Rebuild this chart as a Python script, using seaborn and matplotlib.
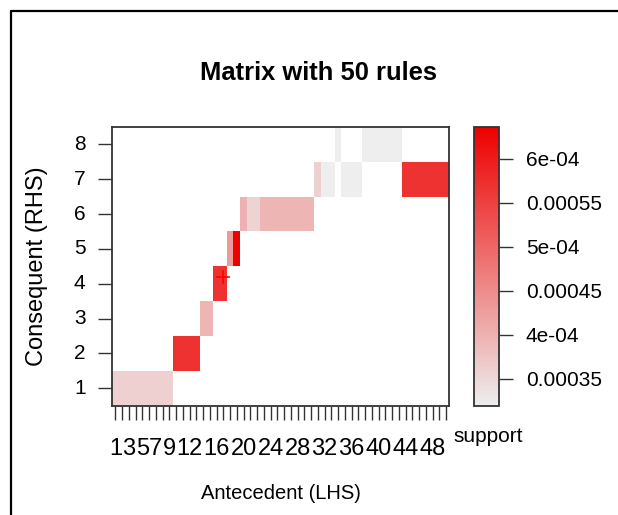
import numpy as np
import pandas as pd
import matplotlib
matplotlib.use("Agg")
import matplotlib.pyplot as plt
from matplotlib.colors import LinearSegmentedColormap
from matplotlib.lines import Line2D
import seaborn as sns

# one rule per antecedent id (LHS 1..50)
lhs = list(range(1, 51))
rhs = [1, 1, 1, 1, 1, 1, 1, 1, 1,
       2, 2, 2, 2,
       3, 3,
       4, 4,
       5, 5,
       6, 6, 6, 6, 6, 6, 6, 6, 6, 6, 6,
       7, 7, 7,
       8,
       7, 7, 7,
       8, 8, 8, 8, 8, 8,
       7, 7, 7, 7, 7, 7, 7]
support = [0.000359] * 9 + [0.000568] * 4 + [0.000395] * 2 + [0.000568] * 2 + \
          [0.000431, 0.000636] + [0.000400, 0.000355, 0.000355] + [0.000395] * 8 + \
          [0.000359] + [0.000320] * 12 + [0.000568] * 7
marker_pos = (16.9, 4.2)   # small "+" drawn on the plot

xtick_labels = [1, 3, 5, 7, 9, 12, 16, 20, 24, 28, 32, 36, 40, 44, 48]
cbar_ticks = [0.00035, 0.0004, 0.00045, 0.0005, 0.00055, 0.0006]
cbar_labels = ["0.00035", "4e-04", "0.00045", "5e-04", "0.00055", "6e-04"]
vmin, vmax = 0.000319, 0.000636

sns.set_theme(style="white")
plt.rcParams["font.family"] = ["Liberation Sans", "DejaVu Sans"]
plt.rcParams["text.color"] = "black"
plt.rcParams["axes.labelcolor"] = "black"
plt.rcParams["xtick.color"] = "black"
plt.rcParams["ytick.color"] = "black"

df = pd.DataFrame({"lhs": lhs, "rhs": rhs, "support": support})
mat = df.pivot(index="rhs", columns="lhs", values="support")
mat = mat.reindex(index=range(8, 0, -1), columns=range(1, 51))

cmap = LinearSegmentedColormap.from_list("grey_red", ["#EEEEEE", "#EE0000"])

fig = plt.figure(figsize=(6.18, 5.15), dpi=100)
ax = fig.add_axes([0.1812, 0.2124, 0.5461, 0.5410])
cax = fig.add_axes([0.7675, 0.2117, 0.0405, 0.5411])

sns.heatmap(mat, ax=ax, cmap=cmap, vmin=vmin, vmax=vmax, cbar_ax=cax,
            cbar_kws={"ticks": cbar_ticks}, linewidths=0)

# "+" marker, converted to heatmap coordinates
ax.plot(marker_pos[0] - 0.5, 8.5 - marker_pos[1], marker="+", color="#FF0000",
        ms=10, mew=1.2)

edge = "#333333"
for s in ax.spines.values():
    s.set_visible(True)
    s.set_color(edge)
    s.set_linewidth(1.3)

ax.set_xticks(np.arange(50) + 0.5)
ax.set_xticklabels([str(i) if i in xtick_labels else "" for i in lhs], rotation=0)
ax.set_yticks(np.arange(8) + 0.5)
ax.set_yticklabels([str(i) for i in range(8, 0, -1)], rotation=0)
ax.tick_params(axis="x", length=10, width=1, color=edge, pad=13, labelsize=17, bottom=True)
ax.tick_params(axis="y", length=10, width=1, color=edge, pad=9, labelsize=15, left=True)

ax.set_xlabel("Antecedent (LHS)", fontsize=14.5, va="center")
ax.xaxis.set_label_coords(0.5, -0.317)
ax.set_ylabel("Consequent (RHS)", fontsize=17, va="center")
ax.yaxis.set_label_coords(-0.222, 0.5)

cbar = ax.collections[0].colorbar
cbar.ax.set_yticklabels(cbar_labels)
cbar.ax.tick_params(length=10, width=1, color=edge, pad=9, labelsize=15, right=True)
cbar.outline.set_visible(True)
cbar.outline.set_edgecolor(edge)
cbar.outline.set_linewidth(1.3)

fig.text(453 / 618, 1 - 437 / 515, "support", ha="left", va="center", fontsize=15)
fig.text(0.5146, 1 - 80 / 515, "Matrix with 50 rules", ha="center", va="baseline",
         fontsize=18.4, fontweight="bold")

# frame around the picture
fig.add_artist(Line2D([11 / 618, 1], [1 - 11 / 515] * 2, color="black", lw=1.6))
fig.add_artist(Line2D([11 / 618] * 2, [0, 1 - 11 / 515], color="black", lw=1.6))

fig.savefig("out.png", dpi=100)
plt.close(fig)
